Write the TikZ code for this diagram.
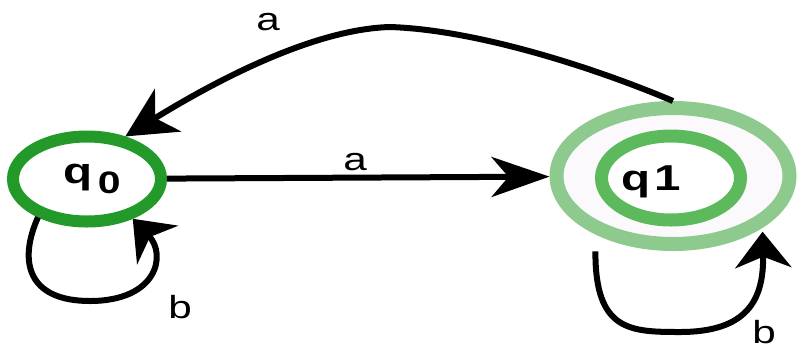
\documentclass[tikz,border=0pt]{standalone}
\usepackage{fontspec}
\usepackage{graphicx}
\setmainfont{Liberation Sans}
\usetikzlibrary{arrows.meta,shapes.geometric}
\definecolor{startgreen}{RGB}{34,153,40}
\definecolor{finalout}{RGB}{142,202,142}
\definecolor{finalin}{RGB}{92,186,92}
\definecolor{finalfill}{RGB}{251,249,252}
\newcommand{\widetext}[1]{\scalebox{1.32}[1]{#1}}
\begin{document}
\begin{tikzpicture}[x=1pt,y=-1pt,
  state/.style={ellipse,draw,fill=white,inner sep=0pt},
  edge/.style={line width=6pt},
  longtip/.style={-{Stealth[length=58pt,width=40pt,inset=17pt]}},
  slanttip/.style={-{Stealth[length=50pt,width=50pt,inset=15pt]}},
  looptip/.style={-{Stealth[length=36pt,width=56pt,inset=11pt]}},
  lbl/.style={font=\fontsize{32}{36}\selectfont,anchor=base,inner sep=0pt},
  sname/.style={font=\bfseries\fontsize{36}{40}\selectfont,anchor=base,inner sep=0pt}]
\useasboundingbox (0,0) rectangle (802,349);

% states
\node[state,draw=startgreen,line width=12pt,outer sep=6pt,
      minimum width=148pt,minimum height=85pt] (q0) at (87,179) {};
\node[state,draw=finalout,fill=finalfill,line width=14pt,outer sep=7pt,
      minimum width=233pt,minimum height=136pt] (q1) at (673,176) {};
\node[state,draw=finalin,line width=13pt,outer sep=6.5pt,
      minimum width=139pt,minimum height=84pt] (q1in) at (671,178) {};

% state names
\node[sname] (q0t) at (92,183)
  {\widetext{q\hspace{4pt}\raisebox{-10pt}{\fontsize{31}{33}\selectfont 0}}};
\node[sname] (q1t) at (651,190) {\widetext{q\hspace{3pt}1}};

% transitions
\draw[edge,longtip] (q0) -- (q1);
\coordinate (top) at (390,27);
\draw[edge,slanttip] (q1.north) .. controls (600,70) and (480,30) .. (top)
  .. controls (320,29) and (230,72) .. (q0.48);
\draw[edge,looptip] (q0.218) .. controls (18,262) and (28,301) .. (90,301)
  .. controls (157,301) and (167,255) .. (q0.-41);
\draw[edge,looptip,shorten <=17pt,shorten >=4pt] (q1.217) .. controls (595,331) and (630,332) .. (680,332)
  .. controls (747,332) and (764,300) .. (q1.-30);

% transition labels
\node[lbl] (la1) at (355,170) {\widetext{a}};
\node[lbl] (la2) at (268,30) {\widetext{a}};
\node[lbl] (lb0) at (180,318) {\widetext{b}};
\node[lbl] (lb1) at (764,343) {\widetext{b}};
\end{tikzpicture}
\end{document}
